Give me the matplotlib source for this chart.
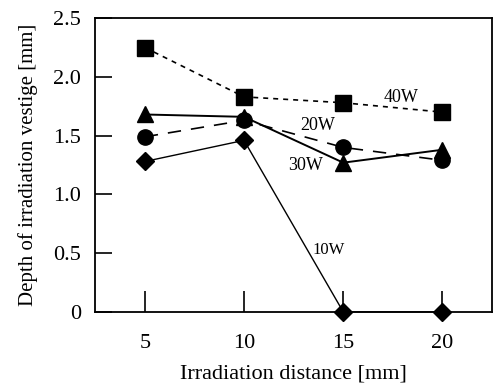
import numpy as np
import matplotlib
matplotlib.use('Agg')
import matplotlib.pyplot as plt

plt.rcParams['font.family'] = ['Liberation Serif', 'DejaVu Serif']

distance = [5, 10, 15, 20]
depth_40w = [2.25, 1.83, 1.78, 1.70]
depth_20w = [1.49, 1.63, 1.40, 1.29]
depth_30w = [1.68, 1.66, 1.27, 1.38]
depth_10w = [1.28, 1.46, 0.0, 0.0]

fig = plt.figure(figsize=(4.96, 3.86), dpi=100)
ax = fig.add_axes([0.192, 0.192, 0.800, 0.761])

ax.plot(distance, depth_40w, color='black', linestyle=(0, (3, 3)), linewidth=1.2,
        marker='s', markersize=11, clip_on=False)
ax.plot(distance, depth_20w, color='black', linestyle=(0, (8, 6)), linewidth=1.2,
        marker='o', markersize=11, clip_on=False)
ax.plot(distance, depth_30w, color='black', linestyle='-', linewidth=1.4,
        marker='^', markersize=11, clip_on=False)
ax.plot(distance, depth_10w, color='black', linestyle='-', linewidth=1.0,
        marker='D', markersize=9, clip_on=False)

# series labels
ax.text(17.05, 1.79, '40W', fontsize=13)
ax.text(12.85, 1.55, '20W', fontsize=13)
ax.text(12.2, 1.21, '30W', fontsize=13)
ax.text(13.45, 0.49, '10W', fontsize=12)

ax.set_xlim(2.5, 22.5)
ax.set_ylim(0, 2.5)
ax.set_xticks(distance)
ax.set_yticks([0, 0.5, 1.0, 1.5, 2.0, 2.5])
ax.set_yticklabels(['0', '0.5', '1.0', '1.5', '2.0', '2.5'])
ax.tick_params(axis='x', direction='in', length=15, width=1.2, labelsize=16, pad=16)
ax.tick_params(axis='y', direction='in', length=12, width=1.2, labelsize=16, pad=10)
for s in ax.spines.values():
    s.set_linewidth(1.3)

ax.set_xlabel('Irradiation distance [mm]', fontsize=16, labelpad=8)
ax.set_ylabel('Depth of irradiation vestige [mm]', fontsize=15, labelpad=11)

fig.savefig('out.png', dpi=100)
